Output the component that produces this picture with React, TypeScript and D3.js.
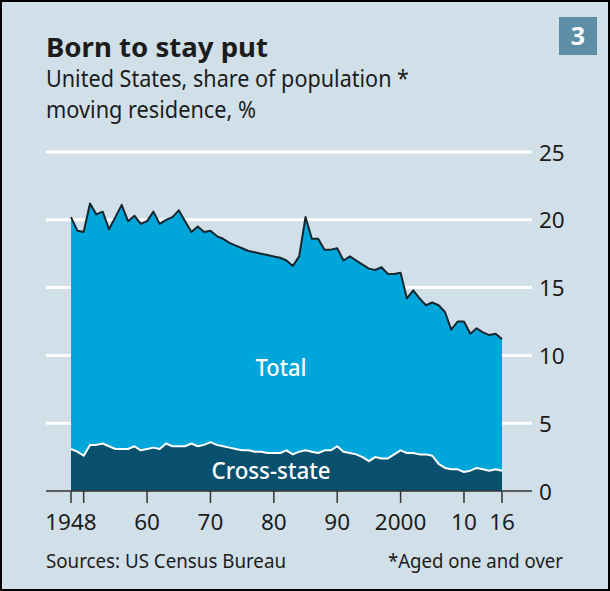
import React from "react";
import * as d3 from "d3";

const years: number[] = d3.range(1948, 2017);

const totalValues: number[] = [
  20.2, 19.2, 19.1, 21.2, 20.4, 20.6, 19.3, 20.2, 21.1, 19.9,
  20.3, 19.7, 19.9, 20.6, 19.7, 20.0, 20.2, 20.7, 19.9, 19.1,
  19.5, 19.1, 19.2, 18.8, 18.6, 18.3, 18.1, 17.9, 17.7, 17.6,
  17.5, 17.4, 17.3, 17.2, 17.0, 16.6, 17.3, 20.2, 18.6, 18.6,
  17.8, 17.8, 17.9, 17.0, 17.3, 17.0, 16.7, 16.4, 16.3, 16.5,
  16.0, 16.0, 16.1, 14.2, 14.8, 14.2, 13.7, 13.9, 13.7, 13.2,
  11.9, 12.5, 12.5, 11.6, 12.0, 11.7, 11.5, 11.6, 11.2,
];

const crossStateValues: number[] = [
  3.1, 2.9, 2.6, 3.4, 3.4, 3.5, 3.3, 3.1, 3.1, 3.1,
  3.3, 3.0, 3.1, 3.2, 3.1, 3.5, 3.3, 3.3, 3.3, 3.5,
  3.3, 3.4, 3.6, 3.4, 3.3, 3.2, 3.1, 3.0, 3.0, 2.9,
  2.9, 2.8, 2.8, 2.8, 3.0, 2.7, 2.9, 3.0, 2.9, 2.8,
  3.0, 3.0, 3.3, 2.9, 2.8, 2.7, 2.5, 2.2, 2.5, 2.4,
  2.4, 2.7, 3.0, 2.8, 2.8, 2.7, 2.7, 2.6, 2.0, 1.7,
  1.6, 1.6, 1.4, 1.5, 1.7, 1.6, 1.5, 1.6, 1.5,
];

const yTicks: number[] = [0, 5, 10, 15, 20, 25];
const xTickYears: number[] = [1948, 1950, 1960, 1970, 1980, 1990, 2000, 2010, 2016];
const xLabelYears: number[] = [1948, 1960, 1970, 1980, 1990, 2000, 2010, 2016];
const xLabelTexts: string[] = ["1948", "60", "70", "80", "90", "2000", "10", "16"];

const FONT = "'Noto Sans', 'Open Sans', sans-serif";
const BG = "#d1e0e8";
const INK = "#1c1c1c";

export default function App() {
  const W = 610;
  const H = 591;
  const x = d3.scaleLinear().domain([1948, 2016]).range([71, 502]);
  const y = d3.scaleLinear().domain([0, 25]).range([491, 152]);

  const totalData = years.map((yr, i) => ({ yr, v: totalValues[i] }));
  const crossData = years.map((yr, i) => ({ yr, v: crossStateValues[i] }));

  const area = d3
    .area<{ yr: number; v: number }>()
    .x((d) => x(d.yr))
    .y0(y(0))
    .y1((d) => y(d.v));
  const line = d3
    .line<{ yr: number; v: number }>()
    .x((d) => x(d.yr))
    .y((d) => y(d.v));

  return (
    <svg
      width={W}
      height={H}
      style={{ position: "absolute", left: 0, top: 0 }}
      fontFamily={FONT}
    >
      <rect x={0} y={0} width={W} height={H} fill={BG} />
      <rect x={1} y={1} width={W - 2} height={H - 2} fill="none" stroke="#000" strokeWidth={2} />

      {/* Title */}
      <text x={46} y={57} fontSize={27.5} fontWeight={700} fill={INK} textLength={222} lengthAdjust="spacingAndGlyphs">
        Born to stay put
      </text>
      <text x={46} y={87} fontSize={23.5} fill={INK} textLength={363} lengthAdjust="spacingAndGlyphs">
        United States, share of population *
      </text>
      <text x={46} y={118} fontSize={23.5} fill={INK} textLength={210} lengthAdjust="spacingAndGlyphs">
        moving residence, %
      </text>

      {/* Badge */}
      <rect x={559} y={17} width={38} height={38} fill="#5e8ea6" />
      <text x={578} y={45} fontSize={25} fontWeight={700} fill="#fff" textAnchor="middle">
        3
      </text>

      {/* Gridlines */}
      {yTicks.filter((t) => t > 0).map((t) => (
        <line key={t} x1={46} x2={532} y1={y(t)} y2={y(t)} stroke="#fff" strokeWidth={3} />
      ))}
      {yTicks.map((t) => (
        <text key={"yl" + t} x={539} y={y(t) + 8.5} fontSize={22.5} fill={INK}>
          {t}
        </text>
      ))}

      {/* Areas */}
      <path d={area(totalData) || ""} fill="#00a5da" />
      <path d={line(totalData) || ""} fill="none" stroke="#17262e" strokeWidth={2} strokeLinejoin="round" />
      <path d={area(crossData) || ""} fill="#08506d" />
      <path d={line(crossData) || ""} fill="none" stroke="#fff" strokeWidth={2} strokeLinejoin="round" />

      {/* Series labels */}
      <text x={281} y={375.5} fontSize={23.5} fontWeight={500} fill="#fff" textAnchor="middle" textLength={51} lengthAdjust="spacingAndGlyphs">
        Total
      </text>
      <text x={271} y={479} fontSize={23.5} fontWeight={500} fill="#fff" textAnchor="middle" textLength={119} lengthAdjust="spacingAndGlyphs">
        Cross-state
      </text>

      {/* X axis */}
      <line x1={46} x2={532} y1={y(0)} y2={y(0)} stroke="#333" strokeWidth={1.5} />
      {xTickYears.map((yr) => (
        <line key={"xt" + yr} x1={x(yr)} x2={x(yr)} y1={y(0)} y2={y(0) + 12} stroke="#333" strokeWidth={1.5} />
      ))}
      {xLabelYears.map((yr, i) => (
        <text key={"xl" + yr} x={x(yr)} y={529.5} fontSize={22.5} fill={INK} textAnchor="middle">
          {xLabelTexts[i]}
        </text>
      ))}

      {/* Footer */}
      <text x={46} y={567.5} fontSize={20.5} fill={INK} textLength={240} lengthAdjust="spacingAndGlyphs">
        Sources: US Census Bureau
      </text>
      <text x={563} y={567.5} fontSize={20.5} fill={INK} textAnchor="end" textLength={175} lengthAdjust="spacingAndGlyphs">
        *Aged one and over
      </text>
    </svg>
  );
}
